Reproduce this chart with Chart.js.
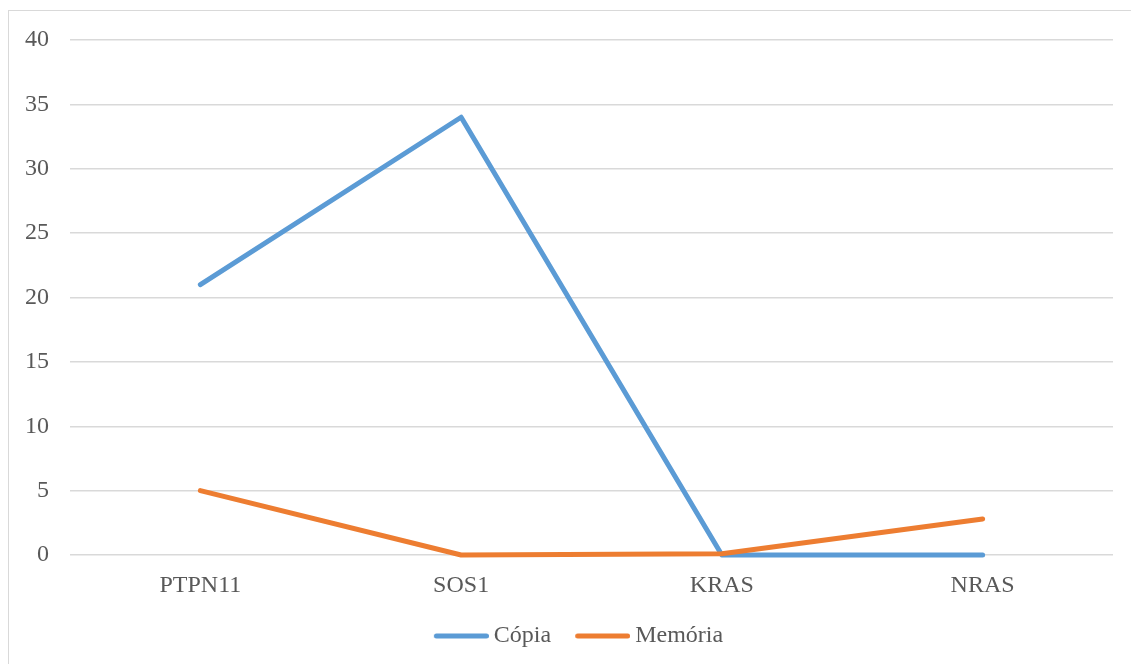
<!DOCTYPE html>
<html>
<head>
<meta charset="utf-8">
<script src="https://cdn.jsdelivr.net/npm/chart.js@4/dist/chart.umd.min.js"></script>
<style>
    html, body { margin: 0; padding: 0; background: #fff; overflow: hidden; }
    #frame { position: absolute; left: 8px; top: 10px; width: 1200px; height: 700px; border: 1px solid #d9d9d9; }
    #wrap { position: absolute; left: 0; top: 0; width: 1131px; height: 664px; }
</style>
</head>
<body>
<div id="frame"></div>
<div id="wrap"><canvas id="chart"></canvas></div>
<script>
// Chart data
const categories = ['PTPN11', 'SOS1', 'KRAS', 'NRAS'];
const copiaValues = [21, 34, 0, 0];
const memoriaValues = [5, 0, 0.1, 2.8];
const yTicks = [0, 5, 10, 15, 20, 25, 30, 35, 40];

const serif = "'Liberation Serif', 'Times New Roman', serif";
const textColor = '#595959';
const blue = '#5B9BD5';
const orange = '#ED7D31';

// Legend marker: a short rounded line, placed close to its label
function legendLine(color) {
    const c = document.createElement('canvas');
    c.width = 76;
    c.height = 8;
    const g = c.getContext('2d');
    g.strokeStyle = color;
    g.lineWidth = 5;
    g.lineCap = 'round';
    g.beginPath();
    g.moveTo(23.5, 4);
    g.lineTo(73.5, 4);
    g.stroke();
    return c;
}

// y labels sit left of the layout padding, so widen their clip box
const unclipYLabels = {
    id: 'unclipYLabels',
    afterLayout(chart) {
        chart.scales.y.left = 0;
    }
};

const ctx = document.getElementById('chart').getContext('2d');
new Chart(ctx, {
    type: 'line',
    data: {
        labels: categories,
        datasets: [
            {
                label: 'Cópia',
                data: copiaValues,
                borderColor: blue,
                backgroundColor: blue,
                borderWidth: 5,
                borderCapStyle: 'round',
                borderJoinStyle: 'round',
                pointRadius: 0,
                pointStyle: legendLine(blue),
                tension: 0,
                clip: false,
                order: 1
            },
            {
                label: 'Memória',
                data: memoriaValues,
                borderColor: orange,
                backgroundColor: orange,
                borderWidth: 5,
                borderCapStyle: 'round',
                borderJoinStyle: 'round',
                pointRadius: 0,
                pointStyle: legendLine(orange),
                tension: 0,
                clip: false,
                order: 0
            }
        ]
    },
    plugins: [unclipYLabels],
    options: {
        responsive: true,
        maintainAspectRatio: false,
        animation: false,
        layout: { padding: { top: 40, left: 30, right: 18, bottom: 6 } },
        plugins: {
            tooltip: { enabled: false },
            legend: {
                position: 'bottom',
                labels: {
                    usePointStyle: true,
                    pointStyleWidth: 62,
                    padding: 10,
                    color: textColor,
                    font: { family: serif, size: 24 },
                    sort: (a, b) => a.datasetIndex - b.datasetIndex
                }
            }
        },
        scales: {
            x: {
                offset: true,
                afterFit: (scale) => { scale.height = 59; },
                grid: { display: false, drawTicks: false },
                border: { display: false },
                ticks: {
                    padding: 16,
                    color: textColor,
                    font: { family: serif, size: 24 },
                    maxRotation: 0
                }
            },
            y: {
                min: 0,
                max: 40,
                afterBuildTicks: (scale) => {
                    scale.ticks = yTicks.map(v => ({ value: v }));
                },
                afterFit: (scale) => { scale.width = 40; },
                grid: { color: '#d9d9d9', lineWidth: 1.5, drawTicks: false },
                border: { display: false },
                ticks: {
                    padding: 21,
                    color: textColor,
                    font: { family: serif, size: 24 }
                }
            }
        }
    }
});
</script>
</body>
</html>
